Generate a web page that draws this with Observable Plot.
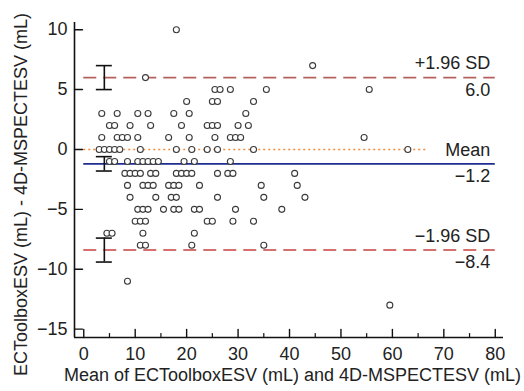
<!DOCTYPE html>
<html>
<head>
<meta charset="utf-8">
<script src="https://cdn.jsdelivr.net/npm/d3@7"></script>
<script src="https://cdn.jsdelivr.net/npm/@observablehq/plot@0.6"></script>
<style>
  html, body { margin: 0; padding: 0; background: #fff; }
  #chart svg { display: block; }
</style>
</head>
<body>
<div id="chart"></div>
<script>
// Bland–Altman agreement: ECToolbox vs 4D-MSPECT end-systolic volume
// Mean of the two methods (mL), one entry per patient
const meanML = [
  18,
  44.5,
  12,
  25.5, 26.5, 28.5, 35.5, 55.5,
  20, 25, 26, 33,
  3.5, 6.5, 10.5, 12.5, 17.5, 20.5, 31.5,
  5, 6, 9, 13, 19, 24, 25, 26, 30, 32,
  3.5, 6.5, 7.5, 8.5, 10.5, 16.5, 20.5, 25.5, 28.5, 29.5, 30.5, 54.5,
  3, 4, 5, 6, 7, 11, 18, 21, 24, 26, 33, 63,
  5, 6, 8.5, 10.5, 11.5, 12.5, 13.5, 14.5, 19.5, 21.5, 28.5,
  8, 9, 10, 11, 13, 14, 18, 19, 20, 21, 26, 28, 29, 41,
  8.5, 11.5, 12.5, 13.5, 16.5, 17.5, 18.5, 22.5, 34.5, 41.5,
  9, 14, 17, 18, 26, 35, 43,
  10.5, 11.5, 12.5, 15.5, 17.5, 18.5, 21.5, 22.5, 29.5, 38.5,
  10, 11, 12, 24, 25, 29, 33,
  4.5, 5.5, 11.5, 21.5,
  11, 12, 21, 35,
  8.5,
  59.5
];
// Difference ECToolbox − 4D-MSPECT (mL), same order as meanML
const diffML = [
  10,
  7,
  6,
  5, 5, 5, 5, 5,
  4, 4, 4, 4,
  3, 3, 3, 3, 3, 3, 3,
  2, 2, 2, 2, 2, 2, 2, 2, 2, 2,
  1, 1, 1, 1, 1, 1, 1, 1, 1, 1, 1, 1,
  0, 0, 0, 0, 0, 0, 0, 0, 0, 0, 0, 0,
  -1, -1, -1, -1, -1, -1, -1, -1, -1, -1, -1,
  -2, -2, -2, -2, -2, -2, -2, -2, -2, -2, -2, -2, -2, -2,
  -3, -3, -3, -3, -3, -3, -3, -3, -3, -3,
  -4, -4, -4, -4, -4, -4, -4,
  -5, -5, -5, -5, -5, -5, -5, -5, -5, -5,
  -6, -6, -6, -6, -6, -6, -6,
  -7, -7, -7, -7,
  -8, -8, -8, -8,
  -11,
  -13
];

// Limits of agreement and mean bias, with their 95% confidence intervals
const limitNames = ["+1.96 SD", "Mean", "\u22121.96 SD"];
const limitValues = [6.0, -1.2, -8.4];
const ciLow = [5.0, -1.8, -9.4];
const ciHigh = [7.0, -0.6, -7.4];
const limitColors = ["#b5625f", "#1e2d8f", "#c9423f"];

// Axis ticks
const xTicks = [0, 10, 20, 30, 40, 50, 60, 70, 80];
const xMinorTicks = [5, 15, 25, 35, 45, 55, 65, 75];
const yTicks = [-15, -10, -5, 0, 5, 10];

const xDomain = [-1.8, 81.6];
const yDomain = [-15.7, 10.6];
const lineSpan = [0, 80];
const zeroSpan = [0, 66.5];
const ciAt = 4;

const points = meanML.map((m, i) => ({mean: m, diff: diffML[i]}));
const limits = limitValues.map((v, i) => ({
  name: limitNames[i], value: v, lo: ciLow[i], hi: ciHigh[i], color: limitColors[i]
}));
const sdLimits = limits.filter(d => d.name !== "Mean");
const biasLimit = limits.filter(d => d.name === "Mean");

const font = "'Liberation Sans', Arial, Helvetica, sans-serif";
const ink = "#222";
const fmt = d3.format("");
const fmt1 = d3.format(".1f");

// Short straight tick pointing into the plot
const tickShape = {draw(ctx, l) { ctx.moveTo(0, 0); ctx.lineTo(0, -l); }};

const chart = Plot.plot({
  width: 524,
  height: 391,
  marginLeft: 74,
  marginRight: 21,
  marginTop: 22,
  marginBottom: 54,
  style: {fontFamily: font, fontSize: "18px", background: "#fff", color: ink},
  x: {domain: xDomain, axis: null},
  y: {domain: yDomain, axis: null},
  marks: [
    // zero reference
    Plot.ruleY([0], {x1: zeroSpan[0], x2: zeroSpan[1], stroke: "#f28a3a", strokeWidth: 1.5, strokeDasharray: "2,3"}),
    // limits of agreement
    Plot.ruleY(sdLimits, {y: "value", x1: lineSpan[0], x2: lineSpan[1], stroke: "color", strokeWidth: 1.6, strokeDasharray: "13,7"}),
    // mean difference
    Plot.ruleY(biasLimit, {y: "value", x1: lineSpan[0], x2: lineSpan[1], stroke: "color", strokeWidth: 1.6}),
    // confidence interval bars
    Plot.ruleX(limits, {x: () => ciAt, y1: "lo", y2: "hi", stroke: "#111", strokeWidth: 1.6}),
    Plot.ruleY(limits, {y: "lo", x1: () => ciAt, x2: () => ciAt, insetLeft: -8, insetRight: -8, stroke: "#111", strokeWidth: 1.6}),
    Plot.ruleY(limits, {y: "hi", x1: () => ciAt, x2: () => ciAt, insetLeft: -8, insetRight: -8, stroke: "#111", strokeWidth: 1.6}),
    // observations
    Plot.dot(points, {x: "mean", y: "diff", r: 3, fill: "#fff", stroke: "#3a3a3a", strokeWidth: 1.1}),
    // limit labels
    Plot.text(limits, {x: () => lineSpan[1], y: "value", text: "name", dx: -5, dy: -14, textAnchor: "end", lineAnchor: "middle", fontSize: 18, fill: ink}),
    Plot.text(limits, {x: () => lineSpan[1], y: "value", text: d => fmt1(d.value), dx: -5, dy: 12.5, textAnchor: "end", lineAnchor: "middle", fontSize: 18, fill: ink}),
    // axis lines
    Plot.ruleX([xDomain[0]], {y1: yDomain[0], y2: yDomain[1], stroke: "#111", strokeWidth: 1.6}),
    Plot.ruleY([yDomain[0]], {x1: xDomain[0], x2: xDomain[1], stroke: "#111", strokeWidth: 1.6}),
    // ticks (inward)
    Plot.vector(xTicks, {x: d => d, y: () => yDomain[0], length: 8, rotate: 0, anchor: "start", shape: tickShape, stroke: "#111", strokeWidth: 1.4}),
    Plot.vector(xMinorTicks, {x: d => d, y: () => yDomain[0], length: 4, rotate: 0, anchor: "start", shape: tickShape, stroke: "#111", strokeWidth: 1.2}),
    Plot.vector(yTicks, {x: () => xDomain[0], y: d => d, length: 8, rotate: 90, anchor: "start", shape: tickShape, stroke: "#111", strokeWidth: 1.4}),
    // tick labels
    Plot.text(xTicks, {x: d => d, frameAnchor: "bottom", dy: 17, text: d => fmt(d), textAnchor: "middle", lineAnchor: "middle", fontSize: 18, fill: ink}),
    Plot.text(yTicks, {y: d => d, frameAnchor: "left", dx: -7, text: d => fmt(d), textAnchor: "end", lineAnchor: "middle", fontSize: 18, fill: ink}),
    // axis titles
    Plot.text(["Mean of ECToolboxESV (mL) and 4D-MSPECTESV (mL)"], {frameAnchor: "bottom", dx: 3.5, dy: 38, textAnchor: "middle", lineAnchor: "middle", fontSize: 18, fill: ink}),
    Plot.text(["ECToolboxESV (mL) - 4D-MSPECTESV (mL)"], {frameAnchor: "left", dx: -53, dy: 14.5, rotate: -90, textAnchor: "middle", lineAnchor: "middle", fontSize: 18, fill: ink})
  ]
});

document.getElementById("chart").append(chart);
</script>
</body>
</html>
